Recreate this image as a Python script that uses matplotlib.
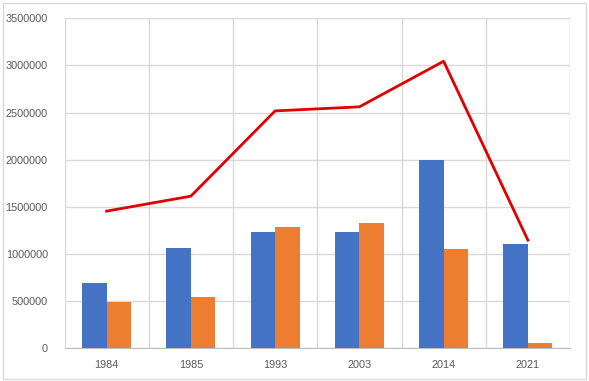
import numpy as np
import matplotlib
matplotlib.use("Agg")
import matplotlib.pyplot as plt
from matplotlib.patches import Rectangle

# data
years = ["1984", "1985", "1993", "2003", "2014", "2021"]
blue_vals = [686000, 1057000, 1230000, 1230000, 1994000, 1103000]
orange_vals = [488000, 541000, 1283000, 1326000, 1050000, 53000]
line_vals = [1453000, 1612000, 2517000, 2560000, 3044000, 1145000]

BLUE = "#4472C4"
ORANGE = "#ED7D31"
RED = "#E00000"
GRID = "#D9D9D9"
TEXT = "#595959"

plt.rcParams["font.family"] = ["Liberation Sans", "DejaVu Sans"]

fig = plt.figure(figsize=(5.89, 3.81), dpi=100)
ax = fig.add_axes([64.5 / 589, 1 - 348 / 381, (570 - 64.5) / 589, (348 - 18.3) / 381])

x = np.arange(len(years))
w = 0.29
ax.bar(x - w / 2, blue_vals, width=w, color=BLUE, zorder=3)
ax.bar(x + w / 2, orange_vals, width=w, color=ORANGE, zorder=3)
ax.plot(x, line_vals, color=RED, lw=2, zorder=4)

ax.set_xlim(-0.5, len(years) - 0.5)
ax.set_ylim(0, 3500000)
ax.set_yticks(np.arange(0, 3500001, 500000))
ax.set_yticklabels([str(v) for v in range(0, 3500001, 500000)])
ax.set_xticks(x)
ax.set_xticklabels(years)

# horizontal + vertical (category boundary) grid lines
ax.grid(axis="y", color=GRID, lw=1, zorder=0)
for b in np.arange(-0.5, len(years) + 0.5, 1):
    ax.axvline(b, color=GRID, lw=1, zorder=0)

for s in ["top", "right", "left"]:
    ax.spines[s].set_visible(False)
ax.spines["bottom"].set_color("#BFBFBF")
ax.tick_params(axis="both", length=0, labelsize=7.8, labelcolor=TEXT)
ax.tick_params(axis="y", pad=12)
ax.tick_params(axis="x", pad=9)

# chart border
fig.patches.append(Rectangle((2.5 / 589, 2.5 / 381), 583 / 589, 376 / 381,
                             transform=fig.transFigure, fill=False,
                             edgecolor="#D9D9D9", lw=1))

fig.savefig("out.png", dpi=100)
